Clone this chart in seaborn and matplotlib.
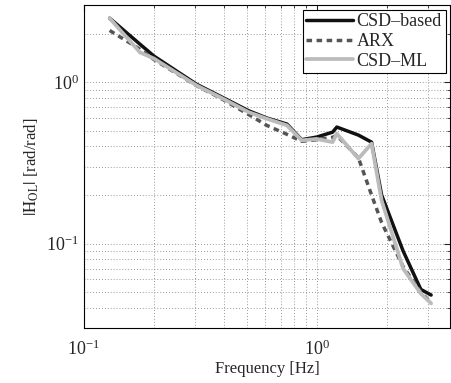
import numpy as np
import matplotlib
matplotlib.use("Agg")
import matplotlib.pyplot as plt
import seaborn as sns
import pandas as pd

# frequency points [Hz] and magnitudes
freq = [0.129, 0.174, 0.20, 0.305, 0.384, 0.51, 0.61, 0.745, 0.862, 1.0,
        1.17, 1.22, 1.51, 1.72, 1.9, 2.35, 2.8, 3.1]
csd_based = [2.49, 1.72, 1.45, 0.97, 0.82, 0.665, 0.60, 0.55, 0.44, 0.457,
             0.49, 0.527, 0.47, 0.425, 0.20, 0.09, 0.052, 0.048]
arx = [2.09, 1.60, 1.38, 0.95, 0.80, 0.63, 0.54, 0.475, 0.43, 0.44,
       0.455, 0.468, 0.34, 0.20, 0.135, 0.072, 0.05, 0.043]
csd_ml = [2.49, 1.53, 1.40, 0.954, 0.808, 0.652, 0.594, 0.54, 0.436, 0.445,
          0.425, 0.48, 0.336, 0.416, 0.185, 0.07, 0.049, 0.0426]

sns.set_style("white")
plt.rcParams['font.family'] = ['Liberation Serif', 'DejaVu Serif']
plt.rcParams['mathtext.fontset'] = 'stix'
plt.rcParams['xtick.direction'] = 'in'
plt.rcParams['ytick.direction'] = 'in'

fig = plt.figure(figsize=(4.51, 3.83), dpi=100)
ax = fig.add_axes([0.186, 0.1436, 0.812, 0.843])

df = pd.DataFrame({"f": freq, "CSD\u2013based": csd_based, "ARX": arx, "CSD\u2013ML": csd_ml})
sns.lineplot(data=df, x="f", y="CSD\u2013based", ax=ax, color="#111111", lw=2.5,
             label="CSD\u2013based")
sns.lineplot(data=df, x="f", y="ARX", ax=ax, color="#555555", lw=2.5,
             label="ARX")
ax.lines[-1].set_dashes((1.6, 1.3))
sns.lineplot(data=df, x="f", y="CSD\u2013ML", ax=ax, color="#bbbbbb", lw=2.7,
             label="CSD\u2013ML")

ax.set_xscale("log")
ax.set_yscale("log")
ax.set_xlim(0.1, 3.74)
ax.set_ylim(0.03, 3.0)

ax.grid(True, which="both", linestyle=(0, (1, 2.5)), color="#777777", linewidth=0.6)
ax.tick_params(which="both", top=True, right=True, labelsize=13, length=4)
ax.tick_params(axis="x", which="both", pad=8)
ax.tick_params(which="minor", length=2)
for s in ax.spines.values():
    s.set_color("black")
    s.set_linewidth(0.8)

ax.set_xlabel("Frequency [Hz]", fontsize=12, labelpad=2)
ax.set_ylabel(r"$|\mathrm{H}_{\mathrm{OL}}|$ [rad/rad]", fontsize=12, labelpad=4)

leg = ax.legend(loc="upper right", fontsize=13, frameon=True, fancybox=False,
                handlelength=2.6, handletextpad=0.2, borderpad=0.2,
                labelspacing=0.15, borderaxespad=0.25)
leg.get_frame().set_edgecolor("black")
leg.get_frame().set_linewidth(0.8)
leg.get_frame().set_alpha(1)
leg.get_lines()[1].set_dashes((1.6, 1.3))

fig.savefig("out.png", dpi=100)
